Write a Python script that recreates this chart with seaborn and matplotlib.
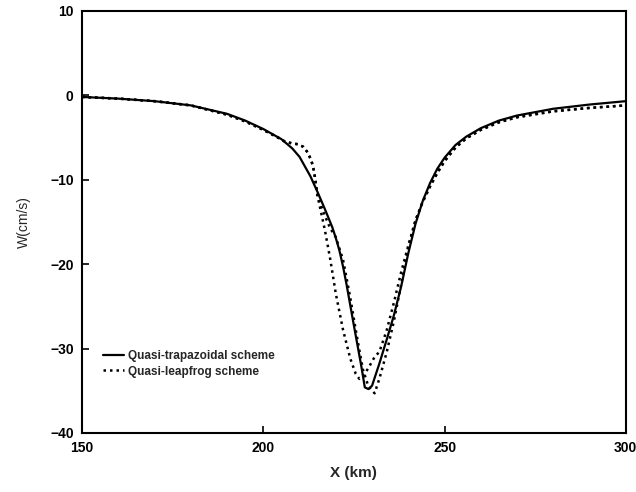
import matplotlib
matplotlib.use("Agg")
import matplotlib.pyplot as plt
import seaborn as sns
import pandas as pd

# Quasi-trapazoidal scheme (solid)
trap_x = [150, 160, 170, 180, 190, 195, 200, 205, 208, 210, 213, 215, 217, 219, 220, 221, 222, 223, 224, 225, 227, 228, 229, 230,
          232, 234, 236, 238, 240, 242, 244, 246, 248, 250, 253, 256, 260, 265, 270, 280, 290, 300]
trap_w = [-0.2, -0.4, -0.7, -1.2, -2.2, -3.0, -4.0, -5.2, -6.3, -7.3, -9.6, -11.5, -13.5, -15.6, -16.9, -18.4, -20.3, -22.5, -24.9, -27.3, -32.0, -34.6, -34.8, -34.4,
          -31.8, -29.0, -26.1, -22.7, -18.7, -15.2, -12.5, -10.4, -8.7, -7.4, -5.9, -4.9, -3.9, -3.0, -2.4, -1.6, -1.1, -0.7]

# Quasi-leapfrog scheme (dotted), two alternating envelopes
leap_x = [150, 160, 170, 180, 190, 195, 200, 204, 206, 208, 209.5, 211, 212.3, 213.3, 214, 215, 217, 218.5, 220, 222,
          224, 225.5, 226.5, 227.5, 229, 230.7, 232, 234, 236, 238, 240, 242, 244, 246, 248, 250, 253, 256, 260, 265,
          270, 280, 290, 300]
leap_a = [-0.2, -0.4, -0.7, -1.2, -2.3, -3.1, -4.1, -5.0, -5.5, -5.7, -5.8, -6.1, -6.8, -7.8, -9.0, -12.0, -16.0, -19.5, -23.5, -27.8,
          -31.2, -33.0, -33.6, -33.3, -32.3, -31.0, -30.4, -27.9, -24.6, -21.0, -17.8, -14.8, -12.6, -10.8, -9.2, -7.8, -6.2, -5.1, -4.1, -3.2,
          -2.6, -1.9, -1.5, -1.2]
leap_b = [-0.2, -0.4, -0.7, -1.2, -2.3, -3.1, -4.1, -5.0, -5.5, -5.7, -5.8, -6.1, -6.8, -7.8, -9.0, -12.0, -14.3, -15.8, -16.8, -19.5,
          -24.0, -27.8, -30.2, -32.5, -34.5, -35.3, -33.6, -30.5, -26.8, -22.5, -18.0, -14.8, -12.6, -10.8, -9.2, -7.8, -6.2, -5.1, -4.1, -3.2,
          -2.6, -1.9, -1.5, -1.2]

x_ticks = [150, 200, 250, 300]
y_ticks = [-40, -30, -20, -10, 0, 10]

sns.set_theme(style="white")
plt.rcParams['font.family'] = ['Liberation Sans', 'DejaVu Sans']

fig = plt.figure(figsize=(6.36, 4.92), dpi=100)
ax = fig.add_axes([0.129, 0.120, 0.855, 0.858])

df_t = pd.DataFrame({"x": trap_x, "w": trap_w})
df_a = pd.DataFrame({"x": leap_x, "w": leap_a})
df_b = pd.DataFrame({"x": leap_x, "w": leap_b})

sns.lineplot(data=df_t, x="x", y="w", ax=ax, color="black", lw=1.6, sort=False, estimator=None,
             label="Quasi-trapazoidal scheme")
sns.lineplot(data=df_a, x="x", y="w", ax=ax, color="black", lw=1.8, linestyle=(0, (1, 1.6)), sort=False,
             estimator=None, label="Quasi-leapfrog scheme")
sns.lineplot(data=df_b, x="x", y="w", ax=ax, color="black", lw=1.8, linestyle=(0, (1, 1.6)), sort=False,
             estimator=None, label="_nolegend_")

ax.set_xlim(150, 300)
ax.set_ylim(-40, 10)
ax.set_xticks(x_ticks)
ax.set_yticks(y_ticks)
ax.set_xticklabels([str(v) for v in x_ticks], fontsize=10, fontweight="bold")
ax.set_yticklabels([("\u2212" + str(-v)) if v < 0 else str(v) for v in y_ticks], fontsize=10, fontweight="bold")
ax.tick_params(axis="both", direction="in", length=5, width=1.2, colors="black", pad=6,
               bottom=True, left=True, top=False, right=False)
ax.set_xlabel("X (km)", fontsize=11, fontweight="bold", labelpad=8)
ax.set_ylabel("W(cm/s)", fontsize=10, labelpad=14)
for s in ax.spines.values():
    s.set_color("black")
    s.set_linewidth(1.5)

leg = ax.legend(loc="lower left", bbox_to_anchor=(0.03, 0.12), frameon=False, fontsize=8.5,
                handlelength=1.8, handletextpad=0.3, labelspacing=0.3, borderaxespad=0)
for t in leg.get_texts():
    t.set_fontweight("bold")

fig.savefig("out.png", dpi=100)
